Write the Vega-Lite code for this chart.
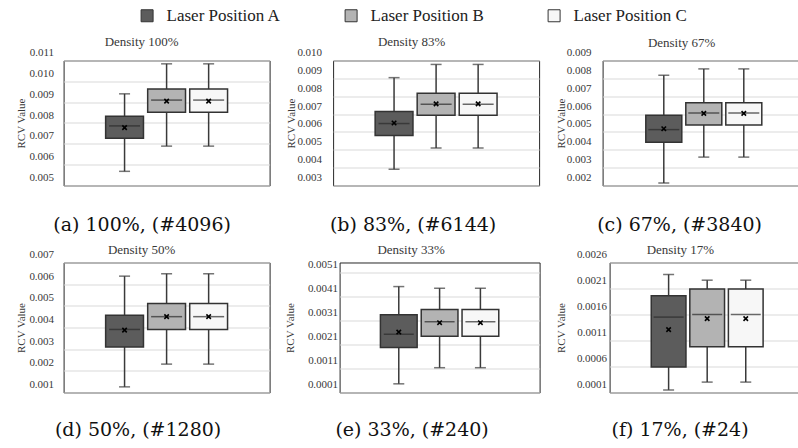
{
  "$schema": "https://vega.github.io/schema/vega-lite/v6.json",
  "padding": {"left": 14.6, "top": 6.5, "right": 0, "bottom": 0},
  "data": {"values": [
    {"panel": "a", "pos": "Laser Position A", "min": 0.00568, "q1": 0.00727, "median": 0.00786, "q3": 0.00833, "max": 0.00940, "mean": 0.00778},
    {"panel": "a", "pos": "Laser Position B", "min": 0.00689, "q1": 0.00852, "median": 0.00910, "q3": 0.00963, "max": 0.01084, "mean": 0.00905},
    {"panel": "a", "pos": "Laser Position C", "min": 0.00689, "q1": 0.00852, "median": 0.00910, "q3": 0.00963, "max": 0.01084, "mean": 0.00905},
    {"panel": "b", "pos": "Laser Position A", "min": 0.00391, "q1": 0.00580, "median": 0.00647, "q3": 0.00715, "max": 0.00904, "mean": 0.00650},
    {"panel": "b", "pos": "Laser Position B", "min": 0.00510, "q1": 0.00694, "median": 0.00755, "q3": 0.00817, "max": 0.00978, "mean": 0.00757},
    {"panel": "b", "pos": "Laser Position C", "min": 0.00510, "q1": 0.00694, "median": 0.00755, "q3": 0.00817, "max": 0.00978, "mean": 0.00757},
    {"panel": "c", "pos": "Laser Position A", "min": 0.00214, "q1": 0.00442, "median": 0.00513, "q3": 0.00594, "max": 0.00817, "mean": 0.00518},
    {"panel": "c", "pos": "Laser Position B", "min": 0.00359, "q1": 0.00539, "median": 0.00606, "q3": 0.00664, "max": 0.00853, "mean": 0.00604},
    {"panel": "c", "pos": "Laser Position C", "min": 0.00359, "q1": 0.00539, "median": 0.00606, "q3": 0.00664, "max": 0.00853, "mean": 0.00604},
    {"panel": "d", "pos": "Laser Position A", "min": 0.00126, "q1": 0.00310, "median": 0.00391, "q3": 0.00457, "max": 0.00637, "mean": 0.00388},
    {"panel": "d", "pos": "Laser Position B", "min": 0.00231, "q1": 0.00391, "median": 0.00450, "q3": 0.00511, "max": 0.00648, "mean": 0.00450},
    {"panel": "d", "pos": "Laser Position C", "min": 0.00231, "q1": 0.00391, "median": 0.00450, "q3": 0.00511, "max": 0.00648, "mean": 0.00450},
    {"panel": "e", "pos": "Laser Position A", "min": 0.00046, "q1": 0.00197, "median": 0.00252, "q3": 0.00333, "max": 0.00450, "mean": 0.00261},
    {"panel": "e", "pos": "Laser Position B", "min": 0.00113, "q1": 0.00244, "median": 0.00304, "q3": 0.00355, "max": 0.00443, "mean": 0.00300},
    {"panel": "e", "pos": "Laser Position C", "min": 0.00113, "q1": 0.00244, "median": 0.00304, "q3": 0.00355, "max": 0.00443, "mean": 0.00300},
    {"panel": "f", "pos": "Laser Position A", "min": 0.00015, "q1": 0.00059, "median": 0.00155, "q3": 0.00196, "max": 0.00237, "mean": 0.00131},
    {"panel": "f", "pos": "Laser Position B", "min": 0.00030, "q1": 0.00098, "median": 0.00160, "q3": 0.00209, "max": 0.00226, "mean": 0.00152},
    {"panel": "f", "pos": "Laser Position C", "min": 0.00030, "q1": 0.00098, "median": 0.00160, "q3": 0.00209, "max": 0.00226, "mean": 0.00152}
  ]},
  "bounds": "flush",
  "spacing": 202,
  "vconcat": [
    {
      "bounds": "flush",
      "spacing": 63.5,
      "hconcat": [
        {
          "width": 206, "height": 125,
          "title": {"text": "Density 100%", "offset": 0, "dx": -25, "dy": 2.5},
          "transform": [{"filter": "datum.panel === 'a'"}],
          "encoding": {"x": {"field": "pos", "type": "nominal", "scale": {"domain": ["Laser Position A", "Laser Position B", "Laser Position C"], "paddingInner": 0.1, "paddingOuter": 1.535}, "axis": {"title": "(a) 100%, (#4096)", "labels": false, "grid": false, "titlePadding": 29.8, "titleX": 78, "titleFont": "DejaVu Serif", "titleFontSize": 19, "titleColor": "#111111"}}},
          "layer": [
            {"mark": {"type": "rule", "color": "#3a3a3a", "strokeWidth": 1.5}, "encoding": {"y": {"field": "min", "type": "quantitative", "scale": {"domain": [0.005, 0.011], "nice": false, "zero": false}, "axis": {"title": "RCV Value", "values": [0.005, 0.006, 0.007, 0.008, 0.009, 0.010, 0.011], "tickCount": 30, "format": ".3f", "labelPadding": 10, "titlePadding": 2, "labelOffset": -8, "labelOverlap": false, "grid": true}}, "y2": {"field": "q1"}}},
            {"mark": {"type": "rule", "color": "#3a3a3a", "strokeWidth": 1.5}, "encoding": {"y": {"field": "q3", "type": "quantitative"}, "y2": {"field": "max"}}},
            {"mark": {"type": "tick", "color": "#3a3a3a", "size": 11, "thickness": 1.5}, "encoding": {"y": {"field": "min", "type": "quantitative"}}},
            {"mark": {"type": "tick", "color": "#3a3a3a", "size": 11, "thickness": 1.5}, "encoding": {"y": {"field": "max", "type": "quantitative"}}},
            {"mark": {"type": "bar", "stroke": "#333333", "strokeWidth": 1.5}, "encoding": {"y": {"field": "q1", "type": "quantitative"}, "y2": {"field": "q3"}, "fill": {"field": "pos", "type": "nominal", "scale": {"domain": ["Laser Position A", "Laser Position B", "Laser Position C"], "range": ["#5c5c5c", "#b3b3b3", "#f7f7f7"]}, "legend": {"title": null, "orient": "none", "legendX": 75, "legendY": -53.5, "direction": "horizontal", "columns": 3, "columnPadding": 61, "symbolType": "square", "symbolSize": 144, "symbolStrokeColor": "#777777", "symbolStrokeWidth": 1, "labelFont": "Liberation Serif", "labelFontSize": 17, "labelColor": "#222222", "labelOffset": 11, "labelLimit": 300}}}},
            {"mark": {"type": "tick", "color": "#2b2b2b", "size": 31, "thickness": 1.5}, "encoding": {"y": {"field": "median", "type": "quantitative"}}},
            {"mark": {"type": "point", "shape": "M-1,-1L1,1M1,-1L-1,1", "filled": false, "stroke": "#000000", "strokeWidth": 1.6, "size": 20, "opacity": 1}, "encoding": {"y": {"field": "mean", "type": "quantitative"}}}
          ]
        },
        {
          "width": 206, "height": 125,
          "title": {"text": "Density 83%", "offset": 0, "dx": -24.5, "dy": 2.5},
          "transform": [{"filter": "datum.panel === 'b'"}],
          "encoding": {"x": {"field": "pos", "type": "nominal", "scale": {"domain": ["Laser Position A", "Laser Position B", "Laser Position C"], "paddingInner": 0.1, "paddingOuter": 1.535}, "axis": {"title": "(b) 83%, (#6144)", "labels": false, "grid": false, "titlePadding": 29.8, "titleX": 79.5, "titleFont": "DejaVu Serif", "titleFontSize": 19, "titleColor": "#111111"}}},
          "layer": [
            {"mark": {"type": "rule", "color": "#3a3a3a", "strokeWidth": 1.5}, "encoding": {"y": {"field": "min", "type": "quantitative", "scale": {"domain": [0.003, 0.010], "nice": false, "zero": false}, "axis": {"title": "RCV Value", "values": [0.003, 0.004, 0.005, 0.006, 0.007, 0.008, 0.009, 0.010], "tickCount": 30, "format": ".3f", "labelPadding": 11.5, "titlePadding": 0, "labelOffset": -8, "labelOverlap": false, "grid": true}}, "y2": {"field": "q1"}}},
            {"mark": {"type": "rule", "color": "#3a3a3a", "strokeWidth": 1.5}, "encoding": {"y": {"field": "q3", "type": "quantitative"}, "y2": {"field": "max"}}},
            {"mark": {"type": "tick", "color": "#3a3a3a", "size": 11, "thickness": 1.5}, "encoding": {"y": {"field": "min", "type": "quantitative"}}},
            {"mark": {"type": "tick", "color": "#3a3a3a", "size": 11, "thickness": 1.5}, "encoding": {"y": {"field": "max", "type": "quantitative"}}},
            {"mark": {"type": "bar", "stroke": "#333333", "strokeWidth": 1.5}, "encoding": {"y": {"field": "q1", "type": "quantitative"}, "y2": {"field": "q3"}, "fill": {"field": "pos", "type": "nominal", "scale": {"domain": ["Laser Position A", "Laser Position B", "Laser Position C"], "range": ["#5c5c5c", "#b3b3b3", "#f7f7f7"]}}}},
            {"mark": {"type": "tick", "color": "#2b2b2b", "size": 31, "thickness": 1.5}, "encoding": {"y": {"field": "median", "type": "quantitative"}}},
            {"mark": {"type": "point", "shape": "M-1,-1L1,1M1,-1L-1,1", "filled": false, "stroke": "#000000", "strokeWidth": 1.6, "size": 20, "opacity": 1}, "encoding": {"y": {"field": "mean", "type": "quantitative"}}}
          ]
        },
        {
          "width": 196, "height": 125,
          "title": {"text": "Density 67%", "offset": 0, "dx": -19, "dy": 3.5},
          "transform": [{"filter": "datum.panel === 'c'"}],
          "encoding": {"x": {"field": "pos", "type": "nominal", "scale": {"domain": ["Laser Position A", "Laser Position B", "Laser Position C"], "paddingInner": 0.1, "paddingOuter": 1.375, "align": 0.54}, "axis": {"title": "(c) 67%, (#3840)", "labels": false, "grid": false, "titlePadding": 29.8, "titleX": 76.5, "titleFont": "DejaVu Serif", "titleFontSize": 19, "titleColor": "#111111"}}},
          "layer": [
            {"mark": {"type": "rule", "color": "#3a3a3a", "strokeWidth": 1.5}, "encoding": {"y": {"field": "min", "type": "quantitative", "scale": {"domain": [0.002, 0.009], "nice": false, "zero": false}, "axis": {"title": "RCV Value", "values": [0.002, 0.003, 0.004, 0.005, 0.006, 0.007, 0.008, 0.009], "tickCount": 30, "format": ".3f", "labelPadding": 11.7, "titlePadding": 0, "labelOffset": -8, "labelOverlap": false, "grid": true}}, "y2": {"field": "q1"}}},
            {"mark": {"type": "rule", "color": "#3a3a3a", "strokeWidth": 1.5}, "encoding": {"y": {"field": "q3", "type": "quantitative"}, "y2": {"field": "max"}}},
            {"mark": {"type": "tick", "color": "#3a3a3a", "size": 11, "thickness": 1.5}, "encoding": {"y": {"field": "min", "type": "quantitative"}}},
            {"mark": {"type": "tick", "color": "#3a3a3a", "size": 11, "thickness": 1.5}, "encoding": {"y": {"field": "max", "type": "quantitative"}}},
            {"mark": {"type": "bar", "stroke": "#333333", "strokeWidth": 1.5}, "encoding": {"y": {"field": "q1", "type": "quantitative"}, "y2": {"field": "q3"}, "fill": {"field": "pos", "type": "nominal", "scale": {"domain": ["Laser Position A", "Laser Position B", "Laser Position C"], "range": ["#5c5c5c", "#b3b3b3", "#f7f7f7"]}}}},
            {"mark": {"type": "tick", "color": "#2b2b2b", "size": 31, "thickness": 1.5}, "encoding": {"y": {"field": "median", "type": "quantitative"}}},
            {"mark": {"type": "point", "shape": "M-1,-1L1,1M1,-1L-1,1", "filled": false, "stroke": "#000000", "strokeWidth": 1.6, "size": 20, "opacity": 1}, "encoding": {"y": {"field": "mean", "type": "quantitative"}}}
          ]
        }
      ]
    },
    {
      "bounds": "flush",
      "spacing": 70,
      "hconcat": [
        {
          "width": 206, "height": 130,
          "title": {"text": "Density 50%", "offset": 0, "dx": -25, "dy": 8.5},
          "transform": [{"filter": "datum.panel === 'd'"}],
          "encoding": {"x": {"field": "pos", "type": "nominal", "scale": {"domain": ["Laser Position A", "Laser Position B", "Laser Position C"], "paddingInner": 0.1, "paddingOuter": 1.535}, "axis": {"title": "(d) 50%, (#1280)", "labels": false, "grid": false, "titlePadding": 27.8, "titleX": 74, "titleFont": "DejaVu Serif", "titleFontSize": 19, "titleColor": "#111111"}}},
          "layer": [
            {"mark": {"type": "rule", "color": "#3a3a3a", "strokeWidth": 1.5}, "encoding": {"y": {"field": "min", "type": "quantitative", "scale": {"domain": [0.001, 0.007], "nice": false, "zero": false}, "axis": {"title": "RCV Value", "values": [0.001, 0.002, 0.003, 0.004, 0.005, 0.006, 0.007], "tickCount": 30, "format": ".3f", "labelPadding": 10, "titlePadding": 2, "labelOffset": -8, "labelOverlap": false, "grid": true}}, "y2": {"field": "q1"}}},
            {"mark": {"type": "rule", "color": "#3a3a3a", "strokeWidth": 1.5}, "encoding": {"y": {"field": "q3", "type": "quantitative"}, "y2": {"field": "max"}}},
            {"mark": {"type": "tick", "color": "#3a3a3a", "size": 11, "thickness": 1.5}, "encoding": {"y": {"field": "min", "type": "quantitative"}}},
            {"mark": {"type": "tick", "color": "#3a3a3a", "size": 11, "thickness": 1.5}, "encoding": {"y": {"field": "max", "type": "quantitative"}}},
            {"mark": {"type": "bar", "stroke": "#333333", "strokeWidth": 1.5}, "encoding": {"y": {"field": "q1", "type": "quantitative"}, "y2": {"field": "q3"}, "fill": {"field": "pos", "type": "nominal", "scale": {"domain": ["Laser Position A", "Laser Position B", "Laser Position C"], "range": ["#5c5c5c", "#b3b3b3", "#f7f7f7"]}}}},
            {"mark": {"type": "tick", "color": "#2b2b2b", "size": 31, "thickness": 1.5}, "encoding": {"y": {"field": "median", "type": "quantitative"}}},
            {"mark": {"type": "point", "shape": "M-1,-1L1,1M1,-1L-1,1", "filled": false, "stroke": "#000000", "strokeWidth": 1.6, "size": 20, "opacity": 1}, "encoding": {"y": {"field": "mean", "type": "quantitative"}}}
          ]
        },
        {
          "width": 200, "height": 130,
          "title": {"text": "Density 33%", "offset": 0, "dx": -28.5, "dy": -1.6},
          "transform": [{"filter": "datum.panel === 'e'"}],
          "encoding": {"x": {"field": "pos", "type": "nominal", "scale": {"domain": ["Laser Position A", "Laser Position B", "Laser Position C"], "paddingInner": 0.1, "paddingOuter": 1.553}, "axis": {"title": "(e) 33%, (#240)", "labels": false, "grid": false, "titlePadding": 27.8, "titleX": 72, "titleFont": "DejaVu Serif", "titleFontSize": 19, "titleColor": "#111111"}}},
          "layer": [
            {"mark": {"type": "rule", "color": "#3a3a3a", "strokeWidth": 1.5}, "encoding": {"y": {"field": "min", "type": "quantitative", "scale": {"domain": [0.0001, 0.0055], "nice": false, "zero": false}, "axis": {"title": "RCV Value", "values": [0.0001, 0.0011, 0.0021, 0.0031, 0.0041, 0.0051], "tickCount": 30, "format": ".4f", "labelPadding": 2, "titlePadding": 12, "labelOffset": -8, "labelOverlap": false, "grid": true}}, "y2": {"field": "q1"}}},
            {"mark": {"type": "rule", "color": "#3a3a3a", "strokeWidth": 1.5}, "encoding": {"y": {"field": "q3", "type": "quantitative"}, "y2": {"field": "max"}}},
            {"mark": {"type": "tick", "color": "#3a3a3a", "size": 11, "thickness": 1.5}, "encoding": {"y": {"field": "min", "type": "quantitative"}}},
            {"mark": {"type": "tick", "color": "#3a3a3a", "size": 11, "thickness": 1.5}, "encoding": {"y": {"field": "max", "type": "quantitative"}}},
            {"mark": {"type": "bar", "stroke": "#333333", "strokeWidth": 1.5}, "encoding": {"y": {"field": "q1", "type": "quantitative"}, "y2": {"field": "q3"}, "fill": {"field": "pos", "type": "nominal", "scale": {"domain": ["Laser Position A", "Laser Position B", "Laser Position C"], "range": ["#5c5c5c", "#b3b3b3", "#f7f7f7"]}}}},
            {"mark": {"type": "tick", "color": "#2b2b2b", "size": 30, "thickness": 1.5}, "encoding": {"y": {"field": "median", "type": "quantitative"}}},
            {"mark": {"type": "point", "shape": "M-1,-1L1,1M1,-1L-1,1", "filled": false, "stroke": "#000000", "strokeWidth": 1.6, "size": 20, "opacity": 1}, "encoding": {"y": {"field": "mean", "type": "quantitative"}}}
          ]
        },
        {
          "width": 189, "height": 130,
          "title": {"text": "Density 17%", "offset": 0, "dx": -23.75, "dy": 8.5},
          "transform": [{"filter": "datum.panel === 'f'"}],
          "encoding": {"x": {"field": "pos", "type": "nominal", "scale": {"domain": ["Laser Position A", "Laser Position B", "Laser Position C"], "paddingInner": 0.1, "paddingOuter": 1.39, "align": 0.54}, "axis": {"title": "(f) 17%, (#24)", "labels": false, "grid": false, "titlePadding": 27.8, "titleX": 70, "titleFont": "DejaVu Serif", "titleFontSize": 19, "titleColor": "#111111"}}},
          "layer": [
            {"mark": {"type": "rule", "color": "#3a3a3a", "strokeWidth": 1.5}, "encoding": {"y": {"field": "min", "type": "quantitative", "scale": {"domain": [0.0001, 0.0026], "nice": false, "zero": false}, "axis": {"title": "RCV Value", "values": [0.0001, 0.0006, 0.0011, 0.0016, 0.0021, 0.0026], "tickCount": 30, "format": ".4f", "labelPadding": 3, "titlePadding": 10, "labelOffset": -8, "labelOverlap": false, "grid": true}}, "y2": {"field": "q1"}}},
            {"mark": {"type": "rule", "color": "#3a3a3a", "strokeWidth": 1.5}, "encoding": {"y": {"field": "q3", "type": "quantitative"}, "y2": {"field": "max"}}},
            {"mark": {"type": "tick", "color": "#3a3a3a", "size": 11, "thickness": 1.5}, "encoding": {"y": {"field": "min", "type": "quantitative"}}},
            {"mark": {"type": "tick", "color": "#3a3a3a", "size": 11, "thickness": 1.5}, "encoding": {"y": {"field": "max", "type": "quantitative"}}},
            {"mark": {"type": "bar", "stroke": "#333333", "strokeWidth": 1.5}, "encoding": {"y": {"field": "q1", "type": "quantitative"}, "y2": {"field": "q3"}, "fill": {"field": "pos", "type": "nominal", "scale": {"domain": ["Laser Position A", "Laser Position B", "Laser Position C"], "range": ["#5c5c5c", "#b3b3b3", "#f7f7f7"]}}}},
            {"mark": {"type": "tick", "color": "#2b2b2b", "size": 30, "thickness": 1.5}, "encoding": {"y": {"field": "median", "type": "quantitative"}}},
            {"mark": {"type": "point", "shape": "M-1,-1L1,1M1,-1L-1,1", "filled": false, "stroke": "#000000", "strokeWidth": 1.6, "size": 20, "opacity": 1}, "encoding": {"y": {"field": "mean", "type": "quantitative"}}}
          ]
        }
      ]
    }
  ],
  "config": {
    "view": {"stroke": "#262626", "strokeWidth": 1},
    "axis": {"domain": false, "ticks": false, "tickSize": 0, "gridColor": "#d9d9d9", "gridWidth": 1, "labelFont": "Liberation Serif", "labelFontSize": 11, "labelColor": "#383838", "titleFont": "Liberation Serif", "titleFontSize": 11, "titleFontWeight": "normal", "titleColor": "#383838", "labelFlush": false, "labelOverlap": false},
    "legend": {"labelFont": "Liberation Serif"},
    "title": {"font": "Liberation Serif", "fontSize": 13, "fontWeight": "normal", "color": "#383838", "baseline": "bottom", "anchor": "middle"}
  }
}
